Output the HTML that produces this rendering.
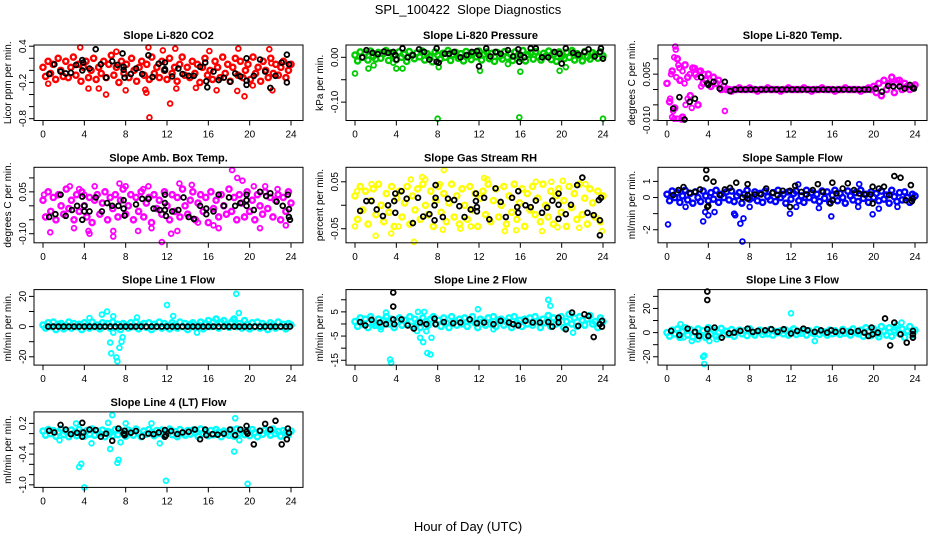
<!DOCTYPE html>
<html>
<head>
<meta charset="utf-8">
<style>
  html,body{margin:0;padding:0;background:#fff;}
  svg{display:block;font-family:"Liberation Sans",sans-serif;}
</style>
</head>
<body>
<svg id="chart" width="936" height="540" viewBox="0 0 936 540" xmlns="http://www.w3.org/2000/svg">
  <rect x="0" y="0" width="936" height="540" fill="#fff"/>
  <text x="468" y="14" text-anchor="middle" font-size="13">SPL_100422&#160; Slope Diagnostics</text>
  <text x="468" y="531" text-anchor="middle" font-size="13">Hour of Day (UTC)</text>
</svg>
<script>
// ---------- DATA ----------
const xTicks = [0,4,8,12,16,20,24];

const co2Band = [.05,-.1,.15,-.05,.1,-.15,.2,0,-.1,.15,-.12,.05,.22,-.08,.1,-.18,.05,.15,-.12,0,.2,-.15,.05,-.05,.15,-.12,.1,.25,-.08,.05,-.2,.15,-.05,.1,-.12,.2,0,-.18,.05,.15,-.08,.1,-.15,.22,-.05,.05,-.12,.15,0,-.15,.2,-.05,.05,-.18,.1,.22,-.08,.05,-.12,.15,-.05,.1,-.2,.05,.2,-.08,0,-.15,.15,.05,-.12,.22,-.05,.1,-.18,.05,.2,-.08,.15,-.12,0,.1,-.15,.22,-.05,.05,-.18,.15,0,-.12,.2,-.05,.1,-.08,.05,.15,-.12,0,.1];
const co2Out = [[3.6,.38],[10.2,.38],[12.8,.36],[18.9,.36],[21.9,.35],[6.1,-.4],[4.4,-.3],[5.4,-.3],[8,-.33],[10,-.37],[12.3,-.55],[10.3,-.78],[14.8,-.29],[16.8,-.33],[18.8,-.34],[19.5,-.43],[20.3,-.25],[22.2,-.33],[0.5,-.22],[9.9,-.32],[12.9,-.3],[7.1,.31],[16.1,.32],[11.6,.33],[22.1,.12]];
const co2Black = [[0.6,-.06],[1.1,.1],[1.7,-.02],[2.2,-.05],[2.7,-.04],[3.2,.09],[3.8,.17],[3.8,0],[3.9,.13],[4.5,.03],[5.1,.35],[5.6,.1],[6.1,-.12],[6.7,.15],[7.2,.09],[7.7,.28],[7.8,.06],[7.8,.01],[7.9,-.12],[8.5,-.06],[9,.03],[9.6,-.06],[10.2,.25],[10.6,-.11],[11.2,.11],[11.8,.13],[11.8,.02],[11.8,0],[12.5,-.1],[13.1,.03],[13.5,-.06],[14.1,-.09],[14.6,-.09],[15.2,.06],[15.7,.13],[15.8,-.18],[15.9,-.28],[16.5,-.02],[17,-.16],[17.5,-.12],[18.1,-.19],[18.6,-.05],[19.1,-.1],[19.7,.2],[19.7,-.17],[19.7,-.24],[20.4,-.09],[21,.18],[21.5,-.02],[22,-.29],[22.5,-.09],[23.1,.13],[23.6,.26],[23.6,-.2],[23.8,.1]];

const presBand = [.005,-.008,.012,0,.01,-.006,.014,.002,-.004,.011,-.002,.008,.015,-.007,.01,.003,-.005,.012,0,.007,-.009,.013,.004,-.003,.01,.001,.014,-.006,.008,.002,-.01,.012,.005,-.004,.009,0,.015,-.007,.006,.011,-.002,.008,-.008,.013,.003,-.005,.01,.001,.014,-.006,.007,.012,-.003,.009,-.009,.011,.002,-.004,.013,0,.008,-.007,.012,.004,-.002,.015,-.008,.006,.01,-.004,.013,.001,-.006,.009,.003,.014,-.005,.007,-.009,.012,.002,-.003,.011,0,.015,-.006,.008,.004,-.008,.013,.001,-.004,.01,.006,-.002,.012,.003];
const presOut = [[0,-.036],[1.3,-.025],[1.8,-.018],[4,-.025],[4.6,-.025],[8.1,-.022],[12.1,-.03],[16,-.032],[19.8,-.03],[20.4,-.022],[8,-.137],[15.9,-.134],[24,-.137],[3.7,-.012],[14.8,-.015]];
const presBlack = [[0.7,0],[1.1,.016],[1.7,.01],[2.2,.007],[2.8,.013],[3.2,.01],[3.7,.012],[3.9,.005],[4,-.005],[4.6,.02],[5.1,0],[5.6,.005],[6.2,.018],[6.7,.012],[7.2,-.005],[7.9,.02],[7.9,-.01],[8.1,-.012],[8.7,.008],[9.1,.008],[9.6,.012],[10.2,0],[10.8,.005],[11.3,.012],[11.8,.014],[12,-.02],[12,.005],[12.7,.02],[13.1,.002],[13.6,.012],[14.1,.008],[14.8,.016],[15.3,.002],[15.8,.018],[15.9,-.01],[16,.005],[16.4,0],[17,.02],[17.5,.02],[18.1,0],[18.7,0],[19.3,.012],[19.8,.008],[20,-.014],[20.4,.02],[21.1,.01],[21.6,.006],[22.2,.012],[22.6,.018],[23.2,.002],[23.7,.012],[23.8,.02],[24,-.003]];

const tempBand = [.002,-.004,.006,-.006,.01,.003,-.009,.008,.004,-.002,.007,.005,-.005,.006,.002,.003,.005,.001,.004,.002,.003,0,.001,0,0,-.0005,0,0,.0005,0,0,0,.0005,0,0,-.0005,0,0,0,.0005,0,0,0,0,-.0005,0,0,.0005,0,0,0,0,0,.0005,0,0,-.0005,0,0,0,.0005,0,0,0,0,-.0005,0,0,0,.0005,0,0,0,0,0,-.0005,0,0,.0005,0,.001,-.001,.002,-.002,.003,0,.002,.004,-.001,.002,.003,0,.002,.001,0,.001,.0015];
const tempOut = [[0.8,.014],[0.85,.013],[0.7,.0105],[1.1,.008],[1.2,.007],[0.4,.005],[0.5,-.009],[0.7,-.0095],[1.0,-.0095],[1.4,-.0098],[0.6,-.007],[1.8,-.005],[2,-.003],[2.4,-.006],[2.7,.007],[3.1,.006],[3.6,.005],[1.5,.006],[2.2,.005],[5.6,-.007],[0.3,-.003],[0.9,.004],[1.3,.003],[1.7,.002],[2.9,.004],[3.3,.001],[4.5,.004],[4.2,.001],[22.3,.003],[21.8,.002]];
const tempBlack = [[0.6,-.0062],[1.2,-.0025],[1.7,-.0098],[2.2,-.004],[2.7,-.003],[3.3,.004],[3.9,.002],[4,.0015],[4.5,.0025],[5.1,.0003],[5.6,.0025],[6.1,-.0005],[6.6,0],[7.1,0],[7.6,0],[8.1,0],[8.6,0],[9.1,0],[9.6,0],[10.1,0],[10.6,0],[11.1,0],[11.6,0],[12.1,0],[12.6,0],[13.1,0],[13.6,0],[14.1,0],[14.6,0],[15.1,0],[15.6,0],[16.1,0],[16.6,0],[17.1,0],[17.6,0],[18.1,0],[18.6,0],[19.1,0],[19.5,0],[20.2,.0003],[20.8,-.0007],[21.4,.0012],[21.9,.001],[22.5,.001],[23,.0003],[23.5,.0015],[23.8,.0005],[23.9,.0003]];

const ambBand = [.02,-.04,.05,-.02,.03,-.05,.04,0,-.03,.06,-.01,.02,-.05,.04,-.02,.05,0,-.04,.03,-.06,.02,.04,-.03,.01,.05,-.05,.03,-.01,.04,-.04,.02,.06,-.03,0,.04,-.05,.03,-.02,.05,-.04,.01,.03,-.06,.04,-.01,.02,-.03,.05,0,-.05,.04,-.02,.03,-.04,.06,0,-.03,.02,.05,-.05,.01,.04,-.02,.03,-.06,.05,-.01,.02,-.04,.04,0,-.03,.06,-.02,.03,-.05,.04,.01,-.04,.05,-.02,.02,-.05,.04,0,-.03,.05,-.01,.03,-.04,.02,.04,-.05,.03,-.02,.05,.01];
const ambOut = [[0.1,.04],[0.7,-.095],[3.5,.06],[4,.04],[4.5,-.1],[4.4,-.09],[6.8,-.11],[6.8,-.09],[7.4,.08],[8,.07],[9.7,.06],[10.5,-.08],[10.2,.07],[11.5,-.13],[12.4,-.1],[13.2,.08],[15,-.06],[17,-.08],[18.3,.128],[18.8,.1],[19.3,.09],[21.5,.07],[21,-.08],[23.5,-.07],[2.6,.07],[5,.07],[14.4,.075],[16.5,-.07],[22.7,.06],[9.2,-.09],[20.4,.07],[3,-.08],[13,-.09]];
const ambBlack = [[0.6,-.04],[1.2,-.03],[1.7,.04],[2.2,-.036],[2.8,-.015],[3.3,0],[3.8,.033],[3.8,-.05],[4,0],[4,-.02],[4.5,-.02],[5.1,.03],[5.7,-.02],[6.2,.01],[6.7,0],[7.3,0],[7.8,.02],[7.8,-.01],[7.9,-.035],[9,.005],[9.6,.025],[10.2,.025],[10.7,-.01],[11.3,-.015],[11.8,.04],[11.8,.01],[11.8,-.015],[11.9,-.036],[12.5,-.02],[13.1,-.015],[13.6,.03],[14.1,-.04],[14.6,-.047],[15.2,0],[15.8,-.01],[15.8,-.03],[16.5,-.02],[17,.04],[17.5,0],[18,.03],[18.6,0],[19.1,.01],[19.7,.04],[19.7,.02],[19.7,0],[20.4,-.015],[21,.05],[21.6,.035],[22,.045],[22.6,.015],[23.2,0],[23.7,.04],[23.8,-.012],[23.8,-.04],[23.9,-.05]];

const rhBand = [.02,-.03,.04,-.01,.03,-.04,.01,.035,-.02,.045,0,-.035,.025,-.015,.04,-.045,.015,.03,-.025,.005,.04,-.04,.02,-.01,.035,-.03,.045,0,-.02,.03,-.045,.01,.04,-.015,.025,-.035,.005,.045,-.025,.02,-.04,.035,0,-.03,.04,-.01,.025,-.045,.015,.03,-.02,.045,-.035,.01,.035,-.025,0,.04,-.04,.02,-.015,.045,-.03,.005,.035,-.045,.025,-.01,.04,-.02,.015,-.035,.045,0,-.025,.03,-.04,.02,.035,-.015,.01,-.045,.04,-.005,.025,-.03,.045,-.02,.015,-.04,.035,.005,-.025,.03,-.035,.02];
const rhOut = [[0,-.045],[0.2,.03],[1.6,.045],[2.0,-.065],[3.5,-.06],[5.7,-.078],[5.4,.055],[6.5,.06],[6.8,.055],[8.6,.075],[8.2,.045],[10.2,-.05],[12.5,.058],[12.8,.055],[14.5,-.055],[15.6,-.053],[18.1,-.055],[19,.05],[20.1,.052],[19.6,-.047],[23.9,-.055],[21.7,-.048],[11.2,-.045],[17.5,.05],[4.2,-.045],[8.5,-.052],[22.3,.045]];
const rhBlack = [[0.5,-.012],[1.1,.009],[1.6,.009],[2.1,-.009],[2.7,-.023],[3.2,0],[3.8,.009],[3.9,.025],[3.9,-.016],[4.5,.03],[5,.014],[5.6,-.038],[6.1,.016],[6.6,-.024],[7.2,-.019],[7.7,0],[7.8,.016],[7.8,.043],[7.7,-.032],[8.5,-.025],[9,.014],[9.6,.011],[10.1,-.002],[10.6,-.025],[11.2,-.009],[11.7,.009],[11.8,-.004],[11.8,-.013],[11.7,.025],[12.5,.016],[13,-.03],[13.6,.036],[14.1,.007],[14.6,-.025],[15.2,.016],[15.7,-.004],[15.8,.03],[15.8,-.016],[16.5,0],[17,-.004],[17.5,.01],[18.1,-.016],[18.6,-.005],[19.1,.01],[19.7,.025],[19.7,.001],[19.7,-.029],[20.4,-.019],[20.9,.001],[21.5,.043],[22,.059],[22.5,-.016],[23.1,-.021],[23.6,.011],[23.8,.016],[23.7,-.032],[23.7,-.064]];

const sfBand = [.2,-.2,.4,0,.3,-.3,.1,.45,-.15,.25,-.35,.35,0,-.25,.4,.1,-.2,.3,-.1,.45,-.3,.2,0,.35,-.15,.4,-.25,.1,.3,-.35,.2,.45,-.1,0,.35,-.2,.25,-.3,.4,.05,-.15,.3,-.25,.45,0,.2,-.35,.35,-.1,.25,.4,-.2,.1,-.3,.45,0,.3,-.15,.2,-.25,.4,-.05,.35,-.3,.15,.45,-.2,.25,0,-.35,.4,.1,-.15,.3,-.25,.45,-.05,.2,-.3,.35,0,.25,-.2,.4,-.1,.15,-.35,.45,.05,-.25,.3,-.15,.35,0,-.3,.2,.1];
const sfOut = [[0.1,-1.67],[3.5,-1.48],[3.7,-.9],[4,-1.1],[4.6,-.9],[6.5,-1.0],[6.6,-1.1],[7.1,-1.62],[7.4,-1.3],[7.3,-2.73],[8,-.58],[11.9,-1.0],[12.5,-.58],[14.7,-.65],[15.9,-1.17],[18.5,-.58],[18.6,.83],[19.9,-1.04],[20.5,-.69],[12.7,.81],[1.8,-.58],[22.3,-.58]];
const sfBlack = [[0.6,.15],[1.1,.46],[1.6,.65],[2.2,.29],[2.7,.35],[3.2,.5],[3.8,1.7],[3.8,1.19],[3.9,-.58],[4,-.52],[4.5,.98],[5.1,.15],[5.6,.5],[6.1,.6],[6.7,.92],[7.3,0],[7.8,.83],[7.8,.15],[7.8,-.06],[8.5,.19],[9.1,.19],[9.6,.56],[10.2,.29],[10.7,.15],[11.2,.42],[11.9,.42],[11.9,-.58],[12.4,.73],[13,.35],[13.5,.19],[14.1,.46],[14.6,.83],[15.1,.35],[16,.92],[16,-.17],[15.8,-.37],[16.4,.25],[17,.56],[17.5,.88],[18.1,.46],[18.6,.25],[19.1,.19],[19.7,.19],[19.9,.67],[19.9,-.37],[20.5,.56],[21,.67],[21.5,.15],[22,1.33],[22.6,1.23],[23.1,-.17],[23.6,.77],[23.7,-.23],[23.8,-.06]];

const l1Band = [1,-1,2.5,0,3,-2,1.5,2,-1.5,0.5,3,-1,2,0,1.5,-2,2.5,0.5,-1,3,0,1,-1.5,2.5,0.5,2,-1,3,-0.5,1.5,-2,2,1,-1,2.5,0,3,-1.5,1,2,-0.5,2.5,-2,1.5,0,3,-1,2,0.5,-1.5,2.5,1,-1,3,0,2,-2,1.5,2.5,-0.5,1,3,-1.5,2,4,0,3,5,-1,2.5,4,1,-0.5,3,5,0,2,-1,4,1.5,-1.5,2.5,0,3,-1,2,0.5,-2,2.5,1,-1,3,0,1.5,-1.5,2,1];
const l1Out = [[6.2,10],[6.8,6.8],[6.5,-10.6],[6.6,-17.7],[7.1,-20.4],[7.2,-23],[7.4,-14],[7.6,-10],[7.7,-7],[6.8,-4],[12,14.3],[18.7,21.7],[18.95,9],[12.6,7],[4.5,5.7],[18.4,4.7],[14.9,-4],[5.7,8],[9.1,6]];
const l1Black = [[0.5,0],[1,0],[1.5,0],[2,0],[2.5,0],[3,0],[3.5,0],[4,0],[4.5,0],[5,0],[5.5,0],[6,0],[6.5,0],[7,0],[7.5,0],[8,0],[8.5,0],[9,0],[9.5,0],[10,0],[10.5,0],[11,0],[11.5,0],[12,0],[12.5,0],[13,0],[13.5,0],[14,0],[14.5,0],[15,0],[15.5,0],[16,0],[16.5,0],[17,0],[17.5,0],[18,0],[18.5,0],[19,0],[19.5,0],[20,0],[20.5,0],[21,0],[21.5,0],[22,0],[22.5,0],[23,0],[23.5,0],[23.9,0]];

const l2Band = [1,-1,2.5,0,2,-1.5,3,0.5,-0.5,2,-1,1.5,3,0,2,-1.5,1,2.5,-0.5,1.5,0,3,-1,2,0.5,-1.5,2.5,1,-0.5,2,3,0,1.5,-1,2.5,0.5,-1.5,3,1,-0.5,2,0,2.5,-1,1.5,3,0.5,-1.5,2,1,-0.5,2.5,0,3,-1,1.5,2,-0.5,1,2.5,-1.5,3,0.5,1.5,-1,2,0,2.5,-0.5,3,1,-1.5,2,0.5,3.5,-1,2.5,0,2,3,-1.5,1,4,0,2.5,-1,3,1.5,-0.5,2,3.5,0,1,-1.5,2.5,1];
const l2Out = [[3.4,-14.7],[3.5,-16],[3,4.7],[3,1.3],[6.1,5],[6.7,5],[6.3,-5.7],[6.6,-7.5],[7,-12],[7.3,-12.6],[7.4,-5.7],[6.9,-3],[11.9,6.1],[18.7,10],[18.9,7.5],[2.5,-2.2],[1.9,-.8],[13.4,-2.2],[21.1,-3.6],[6,-2.9]];
const l2Black = [[0.5,.8],[1,-.6],[1.6,1.7],[2.4,.6],[3,-.1],[3.7,13],[3.7,7.2],[3.7,1.9],[3.8,-.1],[4.5,1.9],[5.1,-.6],[5.7,-1.9],[6.3,.6],[6.9,-.1],[7.7,2.2],[7.8,-.1],[8.6,.8],[9.5,.3],[10.2,.6],[11.1,1.9],[11.8,.3],[12.5,.6],[13.4,-.1],[14.1,1.3],[14.9,.6],[15.3,-.1],[15.8,-.6],[16.5,1.3],[17.2,.6],[17.9,.6],[18.7,.8],[19.1,-1.1],[19.7,2.6],[19.7,.6],[20.4,-2.2],[21,4.7],[21.6,-.8],[22.2,4],[22.6,3.3],[23.1,-5.4],[23.7,-.1],[23.9,-1.1],[23.9,1.3]];

const l3Band = [0,-3,2,-1,3,-4,1,4,-2,2.5,-3.5,0.5,3,-2.5,1.5,-4,4,-1,2,-3,0,3.5,-2,1,-1.5,2.5,-3,0.5,2,-1,1.5,-2.5,3,0,-2,1,2,-1.5,0.5,-1,2.5,-2,1,0,1.5,-1,2,-2,0.5,3,-1.5,1,-0.5,2,-2,1.5,0,-1,2.5,-1.5,1,0.5,-2,2,-1,1.5,0,-1.5,2.5,-0.5,1,-2,3,0,-1,2,-3,4,1,-2.5,3,0,-3.5,5,1,-2,4,-3,2,6,-1,3,-4,1,5,-2,2];
const l3Out = [[3.5,-20],[3.6,-26],[3.6,-19],[12,16],[3,-5.6],[2.4,-7],[1.6,-4],[1.3,7],[4.1,-7],[4.8,-5.6],[14.3,-7],[22.1,4.2],[22.7,8.3],[23.3,1.4],[20.4,-1.4]];
const l3Black = [[0.4,1.4],[1.2,-2],[2,3.3],[2.7,.6],[3.1,-2.8],[3.9,34],[3.9,27],[3.9,2.8],[4,-2.8],[4.6,4.2],[5.3,-4.2],[6,-.6],[6.5,0],[7.1,1.4],[7.8,3.3],[8.3,.6],[8.8,1.4],[9.5,1.9],[10.1,2.8],[10.7,.6],[11.3,2.8],[12,-.8],[12.6,1.4],[13.2,3.3],[13.6,1.9],[14.3,.6],[14.9,1.9],[15.5,0],[15.9,1.9],[16.3,.6],[17,1.4],[17.8,.6],[18.5,1.4],[19.1,0],[19.5,-2.8],[19.8,4.2],[19.9,-1.4],[20.4,0],[21.1,11.7],[21.6,-10.6],[22,8.3],[22.6,-1.4],[23.2,-8.3],[23.8,1.4],[23.8,-1.4],[23.8,-4.2]];

const l4Band = [.05,-.03,.08,0,.06,-.05,.03,.09,-.02,.04,-.06,.07,.01,-.04,.08,.02,-.05,.06,-.01,.09,-.03,.05,0,.07,-.06,.04,.02,-.04,.08,-.02,.06,0,-.05,.07,.03,-.03,.09,.01,-.06,.05,-.01,.08,.02,-.04,.06,0,.07,-.05,.03,.09,-.02,.04,-.06,.08,.01,-.03,.06,-.01,.07,.02,-.05,.09,0,.04,-.04,.06,-.02,.08,.03,-.06,.05,.01,-.03,.07,-.05,.09,0,.04,-.02,.06,-.04,.08,.02,-.06,.05,-.01,.07,.03,-.03,.09,0,.04,-.05,.06,.02,-.02,.05];
const l4Out = [[3.5,-.65],[3.7,-.59],[4,-1.05],[6.7,.36],[6.5,-.3],[6.3,.21],[7.2,-.57],[7.3,-.51],[7.5,-.17],[8,.2],[11.9,-.92],[11.3,-.19],[10.5,.2],[3.2,.2],[18.5,-.35],[18.6,.3],[19.8,-.98],[19,-.13],[1.6,-.13],[4.7,-.19]];
const l4Black = [[0.6,.056],[1.1,.023],[1.7,.17],[2.2,.08],[2.7,-.01],[3.3,.016],[3.8,.21],[3.8,-.06],[3.9,.023],[4.5,.08],[5.1,.07],[5.6,-.06],[6.1,0],[6.7,-.14],[7.3,.1],[7.8,0],[7.9,.056],[7.9,-.03],[8.5,.016],[9,.05],[9.6,-.06],[10.2,0],[10.7,-.01],[11.2,.023],[11.8,.07],[11.8,-.06],[11.9,-.03],[12.4,.05],[13,-.01],[13.5,.023],[14.1,.036],[14.7,.08],[15.2,-.11],[15.7,.08],[15.8,-.03],[16.4,-.01],[16.9,-.02],[17.5,0],[18.1,.08],[18.6,-.03],[19.1,.08],[19.7,.15],[19.7,.036],[19.8,0],[20.4,-.21],[21,.056],[21.5,.19],[22,.08],[22.5,.25],[23.1,-.21],[23.6,-.11],[23.7,.1],[23.8,.016]];

// ---------- LAYOUT (styles, not data) ----------
const panels = [
 {id:'co2',col:0,row:0,title:'Slope Li-820 CO2',ylab:'Licor ppm per min.',hi:.42,lo:-.83,ticks:[.4,.2,0,-.2,-.4,-.6,-.8],labels:{'0.4':'0.4','-0.2':'-0.2','-0.8':'-0.8'},color:'#ff0000',band:co2Band,out:co2Out,black:co2Black},
 {id:'pressure',col:1,row:0,title:'Slope Li-820 Pressure',ylab:'kPa per min.',hi:.0275,lo:-.141,ticks:[0,-.05,-.1],labels:{'0':'0.00','-0.1':'-0.10'},color:'#00cc00',band:presBand,out:presOut,black:presBlack},
 {id:'temp',col:2,row:0,title:'Slope Li-820 Temp.',ylab:'degrees C per min.',hi:.0145,lo:-.0101,ticks:[.01,.005,0,-.005,-.01],labels:{'0.005':'0.005','-0.01':'-0.010'},color:'#ff00ff',band:tempBand,out:tempOut,black:tempBlack},
 {id:'amb-box-temp',col:0,row:1,title:'Slope Amb. Box Temp.',ylab:'degrees C per min.',hi:.138,lo:-.1325,ticks:[.1,.05,0,-.05,-.1],labels:{'0.05':'0.05','-0.1':'-0.10'},color:'#ff00ff',band:ambBand,out:ambOut,black:ambBlack},
 {id:'gas-rh',col:1,row:1,title:'Slope Gas Stream RH',ylab:'percent per min.',hi:.0809,lo:-.08,ticks:[.05,0,-.05],labels:{'0.05':'0.05','-0.05':'-0.05'},color:'#ffff00',band:rhBand,out:rhOut,black:rhBlack},
 {id:'sample-flow',col:2,row:1,title:'Slope Sample Flow',ylab:'ml/min per min.',hi:1.875,lo:-2.81,ticks:[1,0,-1,-2],labels:{'1':'1','0':'0','-2':'-2'},color:'#0000ff',band:sfBand,out:sfOut,black:sfBlack},
 {id:'line1',col:0,row:2,title:'Slope Line 1 Flow',ylab:'ml/min per min.',hi:24.5,lo:-25.5,ticks:[20,10,0,-10,-20],labels:{'20':'20','0':'0','-20':'-20'},color:'#00ffff',band:l1Band,out:l1Out,black:l1Black},
 {id:'line2',col:1,row:2,title:'Slope Line 2 Flow',ylab:'ml/min per min.',hi:14.2,lo:-17,ticks:[10,5,0,-5,-10,-15],labels:{'5':'5','-5':'-5','-15':'-15'},color:'#00ffff',band:l2Band,out:l2Out,black:l2Black},
 {id:'line3',col:2,row:2,title:'Slope Line 3 Flow',ylab:'ml/min per min.',hi:35.6,lo:-26.9,ticks:[30,20,10,0,-10,-20],labels:{'20':'20','0':'0','-20':'-20'},color:'#00ffff',band:l3Band,out:l3Out,black:l3Black},
 {id:'line4',col:0,row:3,title:'Slope Line 4 (LT) Flow',ylab:'ml/min per min.',hi:.424,lo:-1.05,ticks:[.2,0,-.2,-.4,-.6,-.8,-1],labels:{'0.2':'0.2','-0.4':'-0.4','-1':'-1.0'},color:'#00ffff',band:l4Band,out:l4Out,black:l4Black}
];

const NS = 'http://www.w3.org/2000/svg';
const svg = document.getElementById('chart');
function mk(tag, attrs, parent){
  const e = document.createElementNS(NS, tag);
  for (const k in attrs) e.setAttribute(k, attrs[k]);
  (parent||svg).appendChild(e);
  return e;
}

panels.forEach(p => {
  const x0 = 34 + 312*p.col, y0 = 45 + 122.3*p.row, W = 269, H = 75.5;
  const xs = h => x0 + 9 + h*248/24;
  const ys = v => y0 + (p.hi - v)/(p.hi - p.lo)*H;
  const g = mk('g', {});
  
  

  const t = mk('text', {x: x0 + W/2, y: y0 - 6, 'text-anchor':'middle', 'font-size':11, 'font-weight':'bold', 'textLength':'', }, g);
  t.removeAttribute('textLength');
  t.textContent = p.title;
  
  

  const yl = mk('text', {x:0, y:0, 'text-anchor':'middle', 'font-size':10, transform:`translate(${x0-23},${y0+H/2}) rotate(-90)`}, g);
  yl.textContent = p.ylab;
  
  

  const plot = mk('g', {'fill':'none'}, g);
  
  
  const n = p.band.length;
  p.band.forEach((v, i) => {
    const c = mk('circle', {cx: xs(i*24/(n-1)), cy: ys(v), r: 2.6, stroke: p.color, 'stroke-width': 2.4}, plot);
    
    
  });
  p.out.forEach(d => {
    const c = mk('circle', {cx: xs(d[0]), cy: ys(d[1]), r: 2.4, stroke: p.color, 'stroke-width': 1.8}, plot);
    
    
  });
  p.black.forEach(d => {
    const c = mk('circle', {cx: xs(d[0]), cy: ys(d[1]), r: 2.4, stroke: '#000', 'stroke-width': 1.8}, plot);
    
    
  });

  const box = mk('rect', {x:x0, y:y0, width:W, height:H, fill:'none', stroke:'#000', 'stroke-width':1}, g);
  
  

  xTicks.forEach(h => {
    const tk = mk('line', {x1:xs(h), x2:xs(h), y1:y0+H, y2:y0+H+5, stroke:'#000'}, g);
    
    
    const tl = mk('text', {x:xs(h), y:y0+H+17, 'text-anchor':'middle', 'font-size':10}, g);
    tl.textContent = String(h);
    
    
  });
  p.ticks.forEach(v => {
    const tk = mk('line', {x1:x0-5, x2:x0, y1:ys(v), y2:ys(v), stroke:'#000'}, g);
    
    
    const key = String(v);
    if (p.labels[key] !== undefined) {
      const tl = mk('text', {x:0, y:0, 'text-anchor':'middle', 'font-size':10, transform:`translate(${x0-8},${ys(v)}) rotate(-90)`}, g);
      tl.textContent = p.labels[key];
      
      
    }
  });
});
</script>
</body>
</html>
